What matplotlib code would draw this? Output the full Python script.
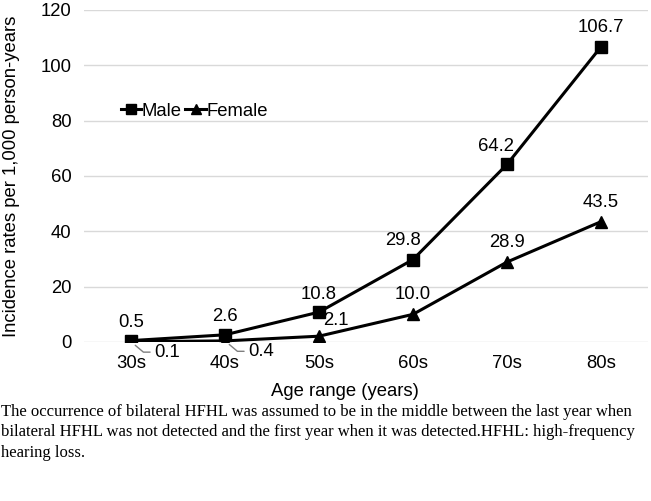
import matplotlib
matplotlib.use("Agg")
import matplotlib.pyplot as plt

categories = ["30s", "40s", "50s", "60s", "70s", "80s"]
male = [0.5, 2.6, 10.8, 29.8, 64.2, 106.7]
female = [0.1, 0.4, 2.1, 10.0, 28.9, 43.5]
yticks = [0, 20, 40, 60, 80, 100, 120]

plt.rcParams['font.family'] = ['Liberation Sans', 'DejaVu Sans']

fig = plt.figure(figsize=(6.51, 5.01), dpi=100)
ax = fig.add_axes([84/651, 1-342/501, (648-84)/651, (342-10)/501])

x = list(range(len(categories)))
ax.plot(x, male, color='black', lw=2.2, marker='s', ms=8.5, label='Male', zorder=3)
ax.plot(x, female, color='black', lw=2.2, marker='^', ms=8.5, label='Female', zorder=3)

ax.set_xlim(-0.5, len(categories) - 0.5)
ax.set_ylim(0, 120)
ax.set_yticks(yticks)
ax.set_xticks(x)
ax.set_xticklabels(categories)
fs = 13.3
ax.tick_params(axis='both', length=0, labelsize=fs, colors='#000000')
ax.tick_params(axis='y', pad=9)
ax.tick_params(axis='x', pad=9)
ax.grid(axis='y', color='#d9d9d9', lw=1)
ax.set_axisbelow(True)
for s in ax.spines.values():
    s.set_visible(False)

# Male labels (offset in points)
male_off = [(0, 13), (0, 13), (0, 13), (-7, 14), (-8, 13), (0, 14)]
for i, v in enumerate(male):
    dx, dy = male_off[i]
    ax.annotate(f"{v:.1f}", (i, v), xytext=(dx, dy), textcoords='offset points',
                ha='center', va='center', fontsize=fs)

# Female labels
for i in (3, 4, 5):
    ax.annotate(f"{female[i]:.1f}", (i, female[i]), xytext=(0, 14), textcoords='offset points',
                ha='center', va='center', fontsize=fs)
ax.annotate(f"{female[2]:.1f}", (2, female[2]), xytext=(12, 11), textcoords='offset points',
            ha='center', va='center', fontsize=fs)
for i in (0, 1):
    ax.annotate(f"{female[i]:.1f}", (i, female[i]), xytext=(26, -7.5), textcoords='offset points',
                ha='center', va='center', fontsize=fs,
                arrowprops=dict(arrowstyle='-', color='#7f7f7f', lw=1.0,
                                relpos=(0, 0.5), shrinkA=1, shrinkB=4,
                                connectionstyle='angle,angleA=0,angleB=-40,rad=0'))

leg = ax.legend(loc='center left', ncol=2, frameon=False, fontsize=fs,
                handlelength=1.1, handletextpad=0.02, columnspacing=0.2,
                borderaxespad=0, borderpad=0, markerscale=0.8)
leg.set_bbox_to_anchor((121/651, 1-111/501), transform=fig.transFigure)

fig.text(12/651, 1-176/501, "Incidence rates per 1,000 person-years", rotation=90,
         ha='center', va='center', fontsize=fs)
fig.text(345/651, 1-392/501, "Age range (years)", ha='center', va='center', fontsize=fs)

caption = ("The occurrence of bilateral HFHL was assumed to be in the middle between the last year when\n"
           "bilateral HFHL was not detected and the first year when it was detected.HFHL: high-frequency\n"
           "hearing loss.")
fig.text(1/651, 1-404/501, caption, ha='left', va='top', fontsize=12,
         family=['Liberation Serif', 'DejaVu Serif'], linespacing=1.36)

fig.savefig("out.png", dpi=100, facecolor='white')
